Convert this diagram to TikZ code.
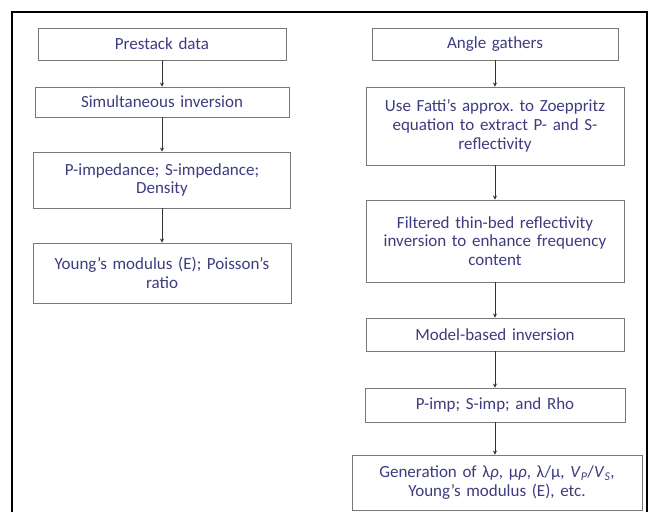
\documentclass[tikz,border=0pt]{standalone}
\usepackage{fontspec}
\setmainfont{Carlito}
\usetikzlibrary{arrows.meta}
\definecolor{txt}{RGB}{62,60,128}
\definecolor{boxline}{RGB}{120,120,120}
\definecolor{arr}{RGB}{50,50,50}
\frenchspacing
\begin{document}
\begin{tikzpicture}[x=1pt,y=-1pt,
  stepbox/.style={draw=boxline, line width=0.9pt, rectangle, align=center, inner xsep=0pt, inner ysep=0pt,
    text=txt, font=\fontsize{17}{18.8}\selectfont},
  flow/.style={draw=arr, line width=0.9pt, -{Stealth[length=4pt,width=4pt]}}]
\useasboundingbox (0,0) rectangle (652,512);
\fill[white] (0,0) rectangle (652,512);
\draw[line width=1.4pt, black] (12,512) -- (12,12) -- (647,12) -- (647,512);
% left column
\node[stepbox, text width=248pt, minimum height=32pt] (a1) at (162,44) {Prestack data};
\node[stepbox, text width=254pt, minimum height=30pt] (a2) at (162,102) {Simultaneous inversion};
\node[stepbox, text width=257pt, minimum height=56pt] (a3) at (162,180) {P-impedance; S-impedance;\\Density};
\node[stepbox, text width=258pt, minimum height=60pt] (a4) at (162,273) {Young’s modulus (E); Poisson’s\\ratio};
% right column
\node[stepbox, text width=246pt, minimum height=32pt] (b1) at (495,44) {Angle gathers};
\node[stepbox, text width=258pt, minimum height=78pt] (b2) at (495,126) {Use Fatti’s approx. to Zoeppritz\\equation to extract P- and S-\\reflectivity};
\node[stepbox, text width=258pt, minimum height=82pt] (b3) at (495,241) {Filtered thin-bed reflectivity\\inversion to enhance frequency\\content};
\node[stepbox, text width=258pt, minimum height=33pt] (b4) at (495,334.5) {Model-based inversion};
\node[stepbox, text width=260pt, minimum height=34pt] (b5) at (495,405) {P-imp; S-imp; and Rho};
\node[stepbox, text width=290pt, minimum height=55pt] (b6) at (497,482.5) {Generation of λ\textit{ρ}, μ\textit{ρ}, λ/μ, \textit{V}\textsubscript{\textit{P}}/\textit{V}\textsubscript{\textit{S}},\\Young’s modulus (E), etc.};
% connectors
\draw[flow] (a1.south) -- (a2.north);
\draw[flow] (a2.south) -- (a3.north);
\draw[flow] (a3.south) -- (a4.north);
\draw[flow] (b1.south) -- (b2.north);
\draw[flow] (b2.south) -- (b3.north);
\draw[flow] (b3.south) -- (b4.north);
\draw[flow] (b4.south) -- (b5.north);
\draw[flow] (b5.south) -- (b5.south |- b6.north);
\end{tikzpicture}
\end{document}
